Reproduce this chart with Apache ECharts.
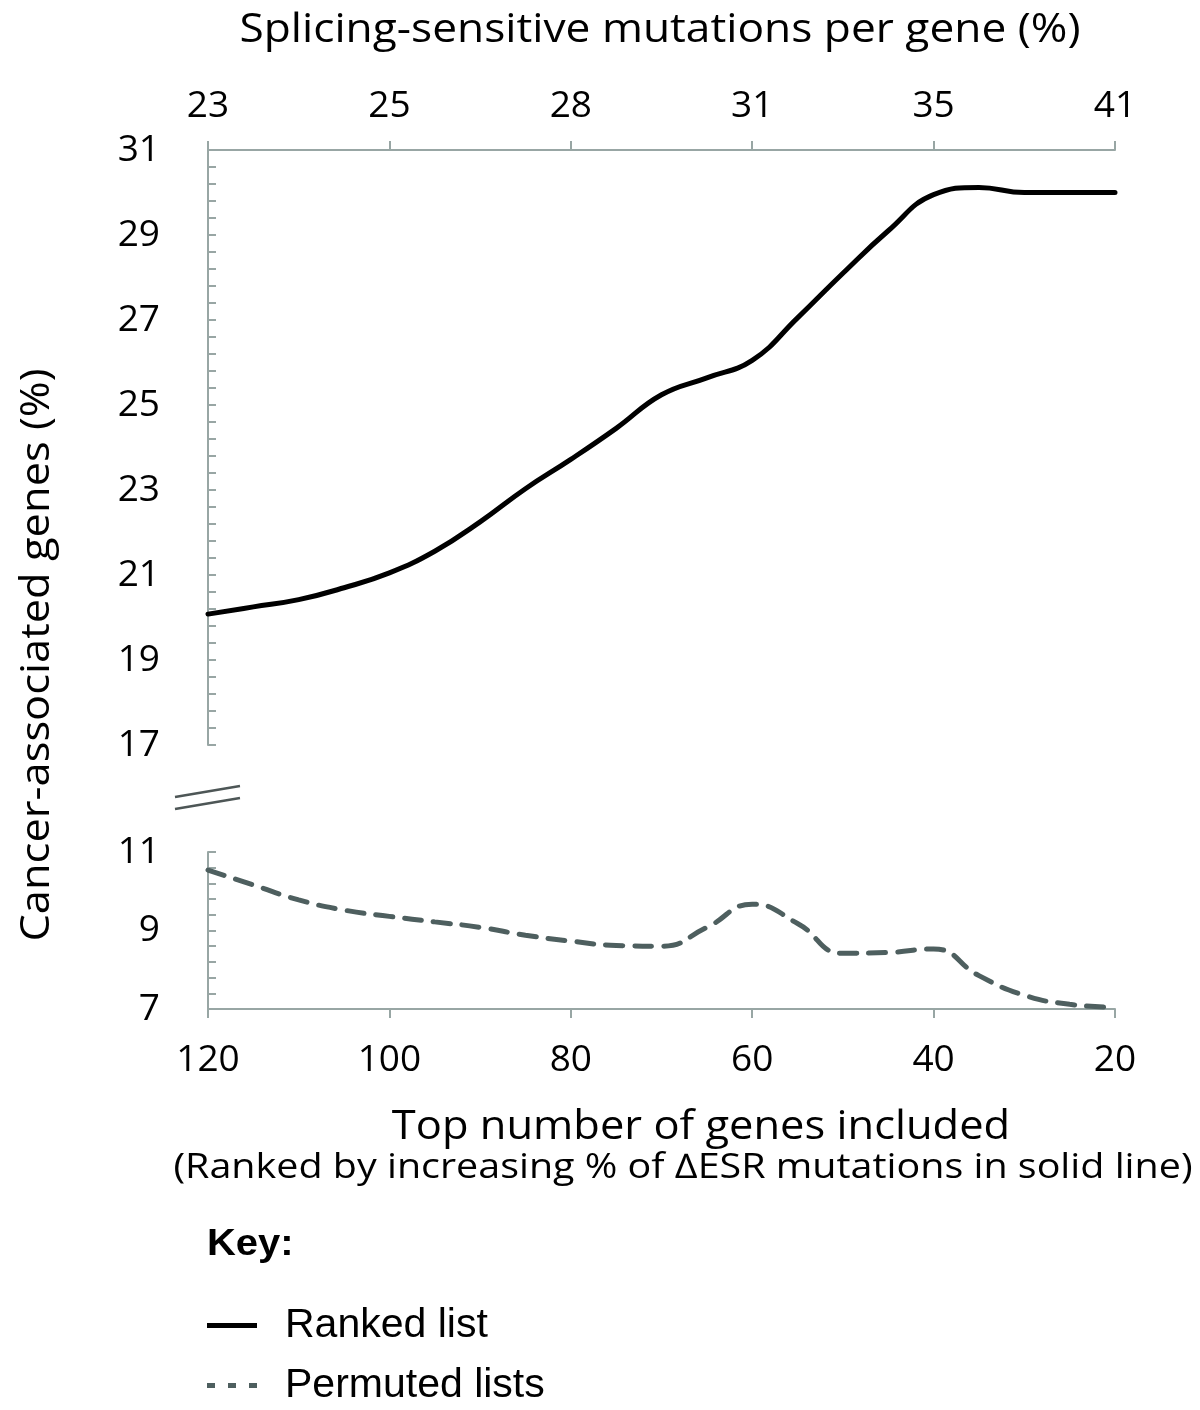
<!DOCTYPE html>
<html>
<head>
<meta charset="utf-8">
<script src="https://cdn.jsdelivr.net/npm/echarts@6/dist/echarts.min.js"></script>
<style>
html,body{margin:0;padding:0;background:#fff;}
#chart{width:1200px;height:1410px;}
</style>
</head>
<body>
<div id="chart"></div>
<script>
// ---- data ----
var genesX = [120,115,110,105,100,95,90,85,80,75,70,65,60,55,50,45,40,35,30,25,20];
var rankedValues = [20.08,20.25,20.42,20.70,21.05,21.56,22.25,23.03,23.72,24.45,25.24,25.64,26.05,27.05,28.10,29.10,29.95,30.12,30.00,30.00,30.00];
var permutedValues = [10.54,10.16,9.78,9.52,9.36,9.22,9.08,8.88,8.73,8.62,8.60,9.08,9.67,9.18,8.42,8.44,8.53,7.85,7.35,7.12,7.04];
var bottomTickValues = [120,100,80,60,40,20];
var topTickValues = [120,100,80,60,40,20];
var topTickLabels = ['23','25','28','31','35','41'];
var seriesNames = ['Ranked list','Permuted lists'];

var titleTop = 'Splicing-sensitive mutations per gene (%)';
var titleY = 'Cancer-associated genes (%)';
var titleX1 = 'Top number of genes included';
var titleX2 = '(Ranked by increasing % of \u2206ESR mutations in solid line)';

function pairs(xs, ys){ return xs.map(function(x,i){ return [x, ys[i]]; }); }

var AX = '#98a6a4';
var FONT = '"Open Sans", "Noto Sans", sans-serif';
var LINE2 = '#4e5f5f';
var chart = echarts.init(document.getElementById('chart'), null, {renderer:'canvas'});

function xAxisCfg(grid, pos, margin, formatter){
  return {
    type:'value', gridIndex:grid, position:pos, min:20, max:120, interval:20, inverse:true,
    axisLine:{show:true, onZero:false, lineStyle:{color:AX, width:2}},
    axisTick:{show:true, inside:false, length:9, lineStyle:{color:AX, width:2}},
    axisLabel:{show:true, color:'#000', fontSize:37, fontFamily:FONT, margin:margin, formatter:formatter},
    splitLine:{show:false}
  };
}
function yAxisCfg(grid, min, max){
  return {
    type:'value', gridIndex:grid, min:min, max:max, interval:2,
    axisLine:{show:true, onZero:false, lineStyle:{color:AX, width:2}},
    axisTick:{show:true, inside:true, length:8, lineStyle:{color:AX, width:2}},
    minorTick:{show:true, splitNumber:5, length:8, lineStyle:{color:AX, width:2}},
    axisLabel:{show:true, color:'#000', fontSize:37, fontFamily:FONT, margin:48},
    splitLine:{show:false}, minorSplitLine:{show:false}
  };
}

var option = {
  backgroundColor:'#fff',
  animation:false,
  grid:[
    {left:208, top:150, width:907, height:595},
    {left:208, top:852, width:907, height:157}
  ],
  xAxis:[
    xAxisCfg(0,'top',25,function(v){ var i = topTickValues.indexOf(v); return i>=0 ? topTickLabels[i] : ''; }),
    xAxisCfg(1,'bottom',33,function(v){ return bottomTickValues.indexOf(v)>=0 ? String(v) : ''; })
  ],
  yAxis:[ yAxisCfg(0,17,31), yAxisCfg(1,7,11) ],
  legend:{
    show:true, orient:'vertical', left:207, top:1304, padding:0, itemWidth:50, itemHeight:5, itemGap:17,
    data:[
      {name:seriesNames[0], icon:'path://M0,0h50v5h-50z'},
      {name:seriesNames[1], icon:'path://M0,0h8v5h-8zM21,0h8v5h-8zM42,0h8v5h-8z'}
    ],
    textStyle:{fontSize:41, lineHeight:43, fontFamily:'"Liberation Sans", Arial, sans-serif', color:'#000', padding:[0,0,0,23]}
  },
  series:[
    {name:seriesNames[0], type:'line', xAxisIndex:0, yAxisIndex:0, data:pairs(genesX, rankedValues),
     smooth:0.45, symbol:'none', lineStyle:{color:'#000', width:5, cap:'round'}, itemStyle:{color:'#000'}},
    {name:seriesNames[1], type:'line', xAxisIndex:1, yAxisIndex:1, data:pairs(genesX, permutedValues),
     smooth:0.5, symbol:'none', lineStyle:{color:LINE2, width:5, type:[17,12], cap:'round'}, itemStyle:{color:LINE2}}
  ],
  graphic:[
    {type:'text', x:660, y:30, scaleX:1.08, style:{text:titleTop, font:'41px "Open Sans", sans-serif', fill:'#000', align:'center', verticalAlign:'middle'}},
    {type:'text', x:37, y:655, rotation:Math.PI/2, scaleX:1.06, style:{text:titleY, font:'41px "Open Sans", sans-serif', fill:'#000', align:'center', verticalAlign:'middle'}},
    {type:'text', x:701, y:1127, scaleX:1.06, style:{text:titleX1, font:'41px "Open Sans", sans-serif', fill:'#000', align:'center', verticalAlign:'middle'}},
    {type:'text', x:683, y:1168, scaleX:1.16, style:{text:titleX2, font:'34px "Open Sans", sans-serif', fill:'#000', align:'center', verticalAlign:'middle'}},
    {type:'text', x:207, y:1245, scaleX:1.08, style:{text:'Key:', font:'bold 37px "Liberation Sans", Arial, sans-serif', fill:'#000', align:'left', verticalAlign:'middle'}},
    {type:'line', shape:{x1:175, y1:797, x2:240, y2:786}, style:{stroke:'#4d5656', lineWidth:2.5}},
    {type:'line', shape:{x1:175, y1:809, x2:240, y2:798}, style:{stroke:'#4d5656', lineWidth:2.5}}
  ]
};
chart.setOption(option);
</script>
</body>
</html>
